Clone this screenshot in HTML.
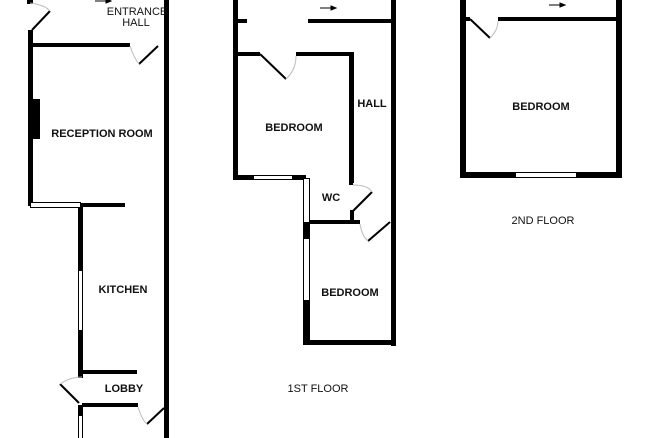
<!DOCTYPE html>
<html><head><meta charset="utf-8"><style>
html,body{margin:0;padding:0;background:#fff;}
svg{display:block;}
text{font-family:"Liberation Sans",sans-serif;font-size:11px;fill:#111;text-anchor:middle;}
</style></head><body>
<svg width="659" height="438" viewBox="0 0 659 438" xmlns="http://www.w3.org/2000/svg">
<g fill="#000">
<!-- Ground floor -->
<rect x="28" y="30" width="5" height="176"/>
<rect x="33" y="99" width="7" height="40"/>
<rect x="33" y="43" width="97" height="4"/>
<rect x="164" y="0" width="5" height="438"/>
<rect x="27" y="0" width="6" height="4"/>
<rect x="80" y="203" width="45" height="4"/>
<rect x="78" y="205" width="5" height="65"/>
<rect x="78" y="330" width="5" height="48"/>
<rect x="82" y="370" width="55" height="4"/>
<rect x="82" y="403" width="56" height="4"/>
<rect x="78" y="405" width="5" height="10"/>
<!-- 1st floor -->
<rect x="233" y="0" width="5" height="180"/>
<rect x="238" y="19" width="9" height="4"/>
<rect x="308" y="19" width="83" height="4"/>
<rect x="391" y="0" width="5" height="346"/>
<rect x="238" y="52" width="22" height="4"/>
<rect x="296" y="52" width="57" height="4"/>
<rect x="349" y="52" width="5" height="131"/>
<rect x="233" y="175" width="20" height="5"/>
<rect x="292" y="175" width="14" height="5"/>
<rect x="349" y="180" width="4" height="5"/>
<rect x="309" y="220" width="51" height="4"/>
<rect x="350" y="210" width="4" height="12"/>
<rect x="303" y="223" width="7" height="15"/>
<rect x="303" y="300" width="7" height="45"/>
<rect x="303" y="340" width="93" height="5"/>
<!-- 2nd floor -->
<rect x="460" y="0" width="6" height="178"/>
<rect x="616" y="0" width="6" height="178"/>
<rect x="466" y="17" width="4" height="4"/>
<rect x="498" y="17" width="118" height="4"/>
<rect x="460" y="172" width="55" height="6"/>
<rect x="576" y="172" width="46" height="6"/>
</g>
<g fill="#fff" stroke="#000" stroke-width="1">
<rect x="30.5" y="202.5" width="50" height="5"/>
<rect x="78.5" y="270.5" width="4" height="60"/>
<rect x="78.5" y="415.5" width="4" height="24"/>
<rect x="253.5" y="175.5" width="39" height="4"/>
<rect x="303.5" y="178.5" width="6" height="44"/>
<rect x="303.5" y="238.5" width="6" height="62"/>
<rect x="515.5" y="172.5" width="61" height="5"/>
</g>
<g stroke="#000" stroke-width="2">
<line x1="32" y1="30" x2="50" y2="11"/>
<line x1="139" y1="64" x2="158" y2="46"/>
<line x1="60" y1="384" x2="79" y2="403"/>
<line x1="147" y1="424" x2="164" y2="408"/>
<line x1="260" y1="54" x2="286" y2="79"/>
<line x1="352" y1="212" x2="372" y2="192"/>
<line x1="368" y1="241" x2="390" y2="222"/>
<line x1="470" y1="19" x2="490" y2="38"/>
</g>
<g stroke="#bbb" stroke-width="1" fill="none">
<path d="M30 3 Q45 5 50 11"/>
<path d="M130 46 Q134 58 139 64"/>
<path d="M60 384 Q70 377 82 377"/>
<path d="M138 407 Q142 420 147 424"/>
<path d="M286 79 Q296 70 296 56"/>
<path d="M353 185 Q368 185 372 192"/>
<path d="M360 224 Q362 236 368 241"/>
<path d="M490 38 Q498 30 498 21"/>
</g>
<g stroke="#000" stroke-width="1">
<line x1="95" y1="1" x2="106" y2="1"/><polygon points="106,-2 111,1 106,3"/>
<line x1="320" y1="8" x2="331" y2="8"/><polygon points="331,6 336,8 331,10"/>
<line x1="549" y1="5" x2="560" y2="5"/><polygon points="560,3 565,5 560,7"/>
</g>
<text x="137" y="15">ENTRANCE</text>
<text x="136" y="26">HALL</text>
<text x="102" y="137" font-weight="bold">RECEPTION ROOM</text>
<text x="123" y="293" font-weight="bold">KITCHEN</text>
<text x="124" y="392" font-weight="bold">LOBBY</text>
<text x="372" y="107" font-weight="bold">HALL</text>
<text x="294" y="131" font-weight="bold">BEDROOM</text>
<text x="331" y="201" font-weight="bold">WC</text>
<text x="350" y="296" font-weight="bold">BEDROOM</text>
<text x="318" y="392">1ST FLOOR</text>
<text x="541" y="110" font-weight="bold">BEDROOM</text>
<text x="543" y="224">2ND FLOOR</text>
</svg>
</body></html>
